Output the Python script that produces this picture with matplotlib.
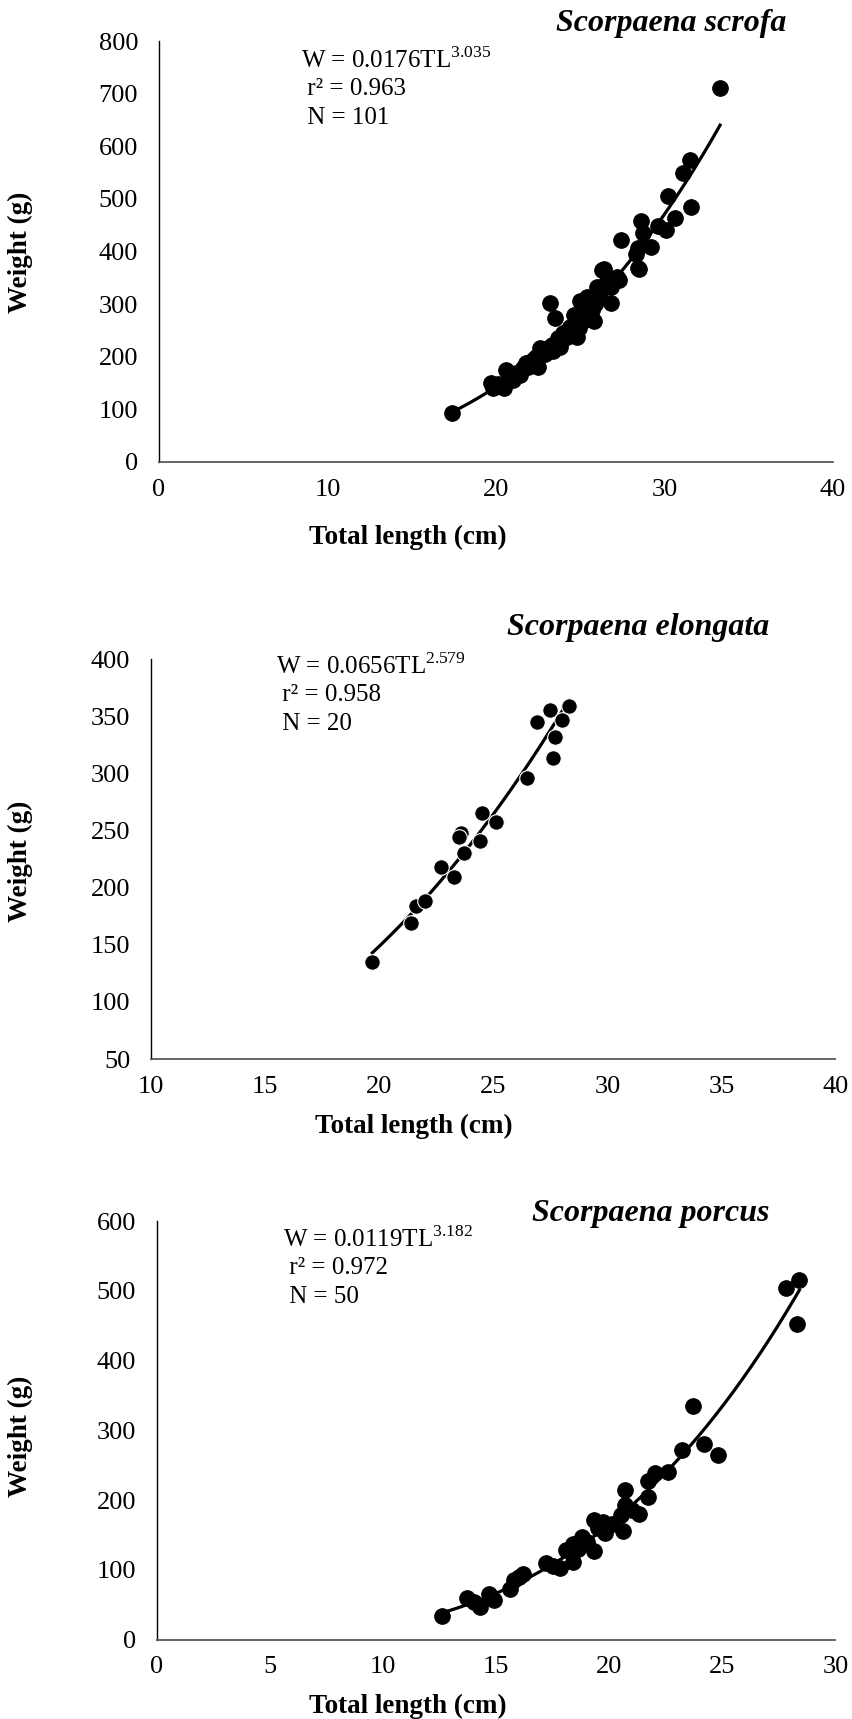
import numpy as np
import matplotlib
matplotlib.use("Agg")
import matplotlib.pyplot as plt

plt.rcParams["font.family"] = ["Liberation Serif", "DejaVu Serif"]
plt.rcParams["mathtext.fontset"] = "custom"
plt.rcParams["mathtext.rm"] = "Liberation Serif"

W, H = 853, 1719

# --- Scorpaena scrofa ---
scrofa_tl = [17.4, 19.8, 19.7, 20.5, 20.6, 21.0, 21.4, 21.8, 22.2, 22.5, 22.6, 23.1,
             23.4, 23.8, 23.9, 24.2, 23.2, 23.5, 24.4, 24.8, 25.0, 25.4, 25.0, 25.8,
             25.4, 26.0, 26.3, 26.8, 26.8, 27.3, 28.4, 26.2, 25.6, 24.6, 26.4, 27.2,
             28.5, 28.3, 28.4, 27.4, 29.2, 28.7, 28.6, 30.1, 29.6, 30.6, 31.6, 30.2,
             31.1, 31.5, 33.3, 20.1, 20.9, 21.6, 22.0, 22.9, 23.6, 24.0, 24.5, 25.2,
             25.5, 25.9, 26.5, 21.2, 22.4, 23.0, 24.1, 24.9, 25.7, 20.3, 21.9, 22.7,
             23.3, 24.3, 25.3, 26.1, 22.3, 23.7]
scrofa_w = [94, 140, 150, 140, 175, 156, 165, 188, 194, 181, 216, 216,
            210, 219, 232, 238, 302, 273, 257, 238, 305, 314, 264, 267,
            283, 333, 365, 302, 333, 346, 368, 321, 295, 280, 366, 351,
            366, 395, 406, 422, 408, 435, 458, 441, 449, 463, 484, 506,
            550, 574, 711, 148, 160, 178, 190, 205, 228, 246, 252, 272,
            290, 300, 340, 170, 200, 212, 240, 255, 288, 145, 180, 208,
            222, 250, 270, 310, 198, 236]

# --- Scorpaena elongata ---
elong_tl = [19.7, 21.4, 21.6, 22.0, 22.7, 23.3, 23.7, 23.6, 23.5, 24.4, 24.5, 25.1,
            26.5, 26.9, 27.5, 28.0, 28.3, 27.7, 27.6]
elong_w = [135, 169, 184, 188, 218, 209, 230, 248, 244, 241, 265, 257,
           296, 345, 355, 347, 359, 332, 313]

# --- Scorpaena porcus ---
porcus_tl = [12.6, 13.7, 14.0, 14.3, 14.7, 14.9, 15.6, 15.8, 16.2, 17.2, 17.8, 18.1,
             18.4, 18.4, 18.8, 19.3, 19.3, 19.7, 19.8, 19.0, 20.5, 20.6, 20.7, 20.7,
             21.3, 21.7, 21.7, 22.0, 22.6, 23.2, 23.7, 24.2, 24.8, 27.8, 28.4, 28.3,
             16.0, 17.5, 18.6, 19.5, 20.1, 21.0]
porcus_w = [34, 59, 54, 46, 65, 57, 73, 85, 94, 109, 102, 129,
            137, 111, 147, 127, 171, 169, 153, 140, 178, 156, 193, 215,
            180, 205, 227, 238, 240, 272, 335, 280, 264, 504, 516, 452,
            90, 106, 130, 160, 165, 185]

panels = [
    dict(tl=scrofa_tl, w=scrofa_w, rect=(159, 41, 833, 462), xlim=(0, 40), xt=[0, 10, 20, 30, 40],
         ylim=(0, 800), yt=range(0, 801, 100), title="Scorpaena scrofa", title_xy=(671, 24),
         eq=("W = 0.0176TL$^{\\mathrm{3.035}}$", " r² = 0.963", " N = 101"), eq_xy=(301, 60),
         ylab_y=252, xlab=(408, 537), edge="black"),
    dict(tl=elong_tl, w=elong_w, rect=(151, 659, 835.5, 1059), xlim=(10, 40), xt=range(10, 41, 5),
         ylim=(50, 400), yt=range(50, 401, 50), title="Scorpaena elongata", title_xy=(638, 627),
         eq=("W = 0.0656TL$^{\\mathrm{2.579}}$", " r² = 0.958", " N = 20"), eq_xy=(276, 666),
         ylab_y=861, xlab=(414, 1126), edge="white"),
    dict(tl=porcus_tl, w=porcus_w, rect=(157, 1221, 835.5, 1639.5), xlim=(0, 30), xt=range(0, 31, 5),
         ylim=(0, 600), yt=range(0, 601, 100), title="Scorpaena porcus", title_xy=(651, 1213),
         eq=("W = 0.0119TL$^{\\mathrm{3.182}}$", " r² = 0.972", " N = 50"), eq_xy=(283, 1239),
         ylab_y=1436, xlab=(408, 1706), edge="black"),
]

fig = plt.figure(figsize=(W / 100, H / 100), dpi=100)

for p in panels:
    x0, y0, x1, y1 = p["rect"]
    ax = fig.add_axes([x0 / W, 1 - y1 / H, (x1 - x0) / W, (y1 - y0) / H])
    tl = np.array(p["tl"])
    w = np.array(p["w"])
    ax.scatter(tl, w, s=125, color="black", edgecolors=p["edge"], linewidths=0.8, zorder=3)
    # power trendline fitted in log-log space
    b, a = np.polyfit(np.log(tl), np.log(w), 1)
    xs = np.linspace(tl.min(), tl.max(), 200)
    ax.plot(xs, np.exp(a) * xs ** b, color="black", lw=2.3, zorder=2)

    ax.set_xlim(*p["xlim"])
    ax.set_ylim(*p["ylim"])
    ax.set_xticks(list(p["xt"]))
    ax.set_yticks(list(p["yt"]))
    ax.tick_params(length=0, labelsize=19)
    ax.tick_params(axis="y", pad=15)
    ax.tick_params(axis="x", pad=12)
    for side in ("top", "right"):
        ax.spines[side].set_visible(False)
    ax.spines["left"].set_color("black")
    ax.spines["bottom"].set_color("#595959")
    ax.spines["left"].set_linewidth(1.0)
    ax.spines["bottom"].set_linewidth(1.3)

    tx, ty = p["title_xy"]
    fig.text(tx / W, 1 - ty / H, p["title"], fontsize=23, fontweight="bold", fontstyle="italic",
             ha="center", va="center")
    ex, ey = p["eq_xy"]
    for i, line in enumerate(p["eq"]):
        fig.text(ex / W, 1 - (ey + i * 29) / H, line, fontsize=18, ha="left", va="center")
    fig.text(20 / W, 1 - p["ylab_y"] / H, "Weight (g)", fontsize=19.5, fontweight="bold",
             rotation=90, ha="center", va="center")
    lx, ly = p["xlab"]
    fig.text(lx / W, 1 - ly / H, "Total length (cm)", fontsize=19.5, fontweight="bold",
             ha="center", va="center")

fig.savefig("out.png", dpi=100, facecolor="white")
